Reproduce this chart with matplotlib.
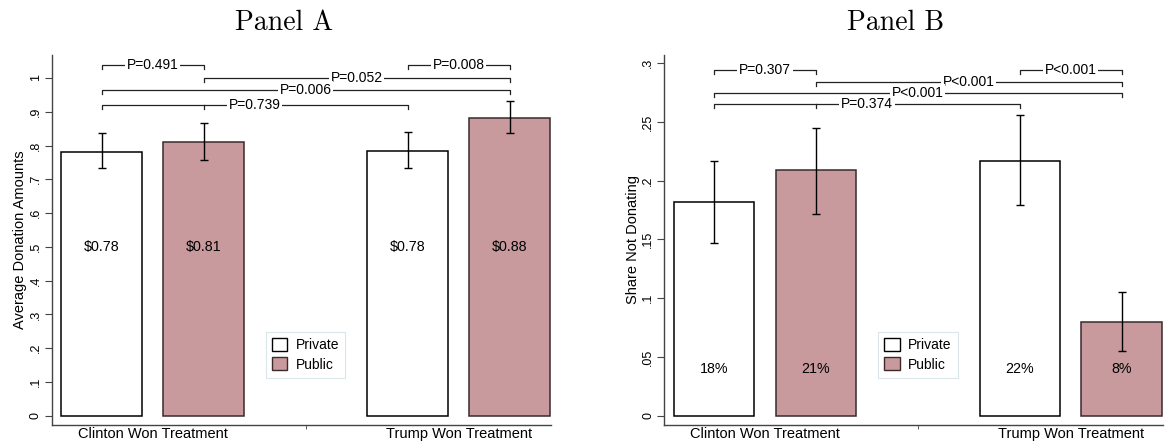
import numpy as np
import matplotlib
matplotlib.use('Agg')
import matplotlib.pyplot as plt
from matplotlib.patches import Patch

plt.rcParams['font.family'] = ['Liberation Sans', 'DejaVu Sans']

groups = ['Clinton Won Treatment', 'Trump Won Treatment']
pos_private = [0, 3]
pos_public = [1, 4]

# Panel A: average donation
don_private = [0.781, 0.783]
don_private_lo = [0.733, 0.732]
don_private_hi = [0.836, 0.840]
don_public = [0.810, 0.882]
don_public_lo = [0.756, 0.837]
don_public_hi = [0.866, 0.932]
don_private_lbl = ['$0.78', '$0.78']
don_public_lbl = ['$0.81', '$0.88']

# Panel B: share not donating
nd_private = [0.182, 0.217]
nd_private_lo = [0.147, 0.179]
nd_private_hi = [0.217, 0.256]
nd_public = [0.209, 0.080]
nd_public_lo = [0.172, 0.055]
nd_public_hi = [0.245, 0.105]
nd_private_lbl = ['18%', '22%']
nd_public_lbl = ['21%', '8%']

# p-value brackets: (left, right, height, text)
brackets_a = [(0, 1, 1.038, 'P=0.491'), (3, 4, 1.038, 'P=0.008'),
              (1, 4, 1.000, 'P=0.052'), (0, 4, 0.965, 'P=0.006'),
              (0, 3, 0.919, 'P=0.739')]
brackets_b = [(0, 1, 0.294, 'P=0.307'), (3, 4, 0.294, 'P<0.001'),
              (1, 4, 0.284, 'P<0.001'), (0, 4, 0.275, 'P<0.001'),
              (0, 3, 0.265, 'P=0.374')]

pink = '#c89a9d'
line_col = '#222222'
W, H = 1165, 445

fig = plt.figure(figsize=(11.65, 4.45), dpi=100)
axA = fig.add_axes([51.7 / W, 20 / H, 499.3 / W, 370 / H])
axB = fig.add_axes([664 / W, 20 / H, 499 / W, 370 / H])


def draw_panel(ax, priv, priv_lo, priv_hi, pub, pub_lo, pub_hi,
               priv_lbl, pub_lbl, lbl_y, brackets, ylim, yticks, yticklbls, ylabel):
    ax.bar(pos_private, priv, width=0.79, color='white', edgecolor='black', linewidth=1.1, zorder=2)
    ax.bar(pos_public, pub, width=0.79, color=pink, edgecolor='#3a2a2b', linewidth=1.1, zorder=2)
    for p, v, lo, hi in zip(pos_private + pos_public, priv + pub, priv_lo + pub_lo, priv_hi + pub_hi):
        ax.errorbar(p, v, yerr=[[v - lo], [hi - v]], fmt='none', ecolor='black',
                    elinewidth=1.0, capsize=2.7, capthick=1.0, zorder=3)
    for p, t in zip(pos_private + pos_public, priv_lbl + pub_lbl):
        ax.text(p, lbl_y, t, ha='center', va='center', fontsize=10.3, zorder=4)

    d = 4.0 / 370 * (ylim[1] - ylim[0])
    for x1, x2, y, t in brackets:
        ax.plot([x1, x1, x2, x2], [y - d, y, y, y - d], color=line_col, lw=0.9, zorder=3)
        ax.text((x1 + x2) / 2, y, t, ha='center', va='center', fontsize=10, zorder=4,
                bbox=dict(fc='white', ec='none', pad=1.2))
    # little drop at the second bar on the lowest bracket
    low = min(b[2] for b in brackets)
    ax.plot([1, 1], [low - d, low], color=line_col, lw=0.9, zorder=3)

    ax.set_xlim(-0.49, 4.405)
    ax.set_ylim(*ylim)
    ax.set_yticks(yticks)
    ax.set_yticklabels(yticklbls, rotation=90, va='center', fontsize=9)
    ax.set_ylabel(ylabel, fontsize=10.5, labelpad=2)
    ax.set_xticks([0.5, 3.5])
    ax.set_xticklabels(groups, fontsize=10.5)
    ax.tick_params(axis='x', length=0, pad=1.5)
    ax.set_xticks([2], minor=True)
    ax.tick_params(axis='x', which='minor', length=3, color='#444444')
    ax.tick_params(axis='y', length=5, color='#444444', pad=2)
    for s in ['top', 'right']:
        ax.spines[s].set_visible(False)
    for s in ['left', 'bottom']:
        ax.spines[s].set_color('#444444')
        ax.spines[s].set_linewidth(1.0)

    handles = [Patch(facecolor='white', edgecolor='black', label='Private'),
               Patch(facecolor=pink, edgecolor='#3a2a2b', label='Public')]
    leg = ax.legend(handles=handles, loc='center', bbox_to_anchor=(2, 0.19),
                    bbox_transform=ax.get_xaxis_transform(), fontsize=10,
                    handlelength=1.1, handleheight=1.1, handletextpad=0.6,
                    borderpad=0.45, labelspacing=0.35, fancybox=False, framealpha=1)
    leg.get_frame().set_edgecolor('#dbe6ea')
    leg.get_frame().set_linewidth(0.8)


draw_panel(axA, don_private, don_private_lo, don_private_hi,
           don_public, don_public_lo, don_public_hi,
           don_private_lbl, don_public_lbl, 0.5, brackets_a,
           (-0.0275, 1.068), np.arange(0, 1.01, 0.1),
           ['0', '.1', '.2', '.3', '.4', '.5', '.6', '.7', '.8', '.9', '1'],
           'Average Donation Amounts')
draw_panel(axB, nd_private, nd_private_lo, nd_private_hi,
           nd_public, nd_public_lo, nd_public_hi,
           nd_private_lbl, nd_public_lbl, 0.04, brackets_b,
           (-0.0079, 0.307), np.arange(0, 0.301, 0.05),
           ['0', '.05', '.1', '.15', '.2', '.25', '.3'],
           'Share Not Donating')

fig.text(284 / W, 1 - 29.5 / H, 'Panel A', ha='center', va='baseline', fontsize=20, family='cmr10')
fig.text(896 / W, 1 - 29.5 / H, 'Panel B', ha='center', va='baseline', fontsize=20, family='cmr10')

fig.savefig('out.png', dpi=100)
